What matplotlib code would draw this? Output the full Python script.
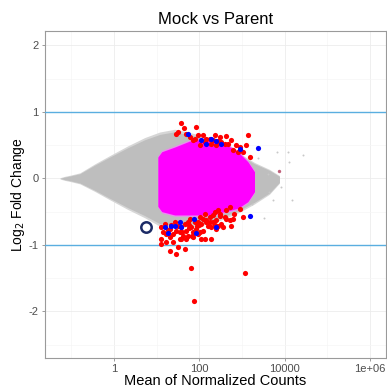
import numpy as np
import matplotlib
matplotlib.use('Agg')
import matplotlib.pyplot as plt
from matplotlib.ticker import FixedLocator

plt.rcParams['font.family'] = ['Liberation Sans', 'DejaVu Sans']
plt.rcParams['axes.unicode_minus'] = False

# --- datos ---
# nube gris (genes no significativos): envolvente
gris_x = [0.054, 0.070, 0.092, 0.158, 0.354, 0.793, 2.09, 5.22, 11.7, 26.3, 101, 297, 871, 1954, 4385, 7516]
gris_sup = [0.0, 0.02, 0.035, 0.07, 0.20, 0.32, 0.46, 0.58, 0.66, 0.70, 0.62, 0.52, 0.35, 0.22, 0.12, 0.03]
gris_inf = [0.0, -0.02, -0.035, -0.07, -0.18, -0.30, -0.44, -0.56, -0.68, -0.70, -0.68, -0.60, -0.48, -0.36, -0.22, -0.06]

# nube magenta: envolvente
mag_x = [10.6, 13.1, 26.3, 59.0, 173, 388, 796, 1365, 1954]
mag_sup = [0.32, 0.40, 0.47, 0.56, 0.60, 0.52, 0.40, 0.25, 0.10]
mag_inf = [-0.42, -0.50, -0.55, -0.55, -0.55, -0.50, -0.45, -0.35, -0.20]

# puntos grises sueltos a la derecha
gris_pts_x = [1200, 1700, 2400, 3200, 4100, 4300, 5200, 6700, 8200, 12200, 12900, 14500, 27000]
gris_pts_y = [0.27, -0.38, 0.30, -0.59, 0.07, -0.20, -0.33, 0.40, -0.13, 0.40, 0.25, -0.32, 0.35]

# punto rosado
rosa_x = [7244]
rosa_y = [0.106]

# genes significativos (rojo)
rojo_x = [37.7, 31.4, 28.8, 42.7, 84.6, 59.0, 77.2, 92.2, 121, 132, 173, 227, 297, 325, 426, 464,
          557, 730, 871, 1250, 1365, 1042, 1493, 248, 101, 190, 608, 796, 49.4, 70.5, 145, 207, 271, 388,
          12.8, 14.0, 12.8, 12.8, 20.1, 20.1, 24.0, 28.8, 34.4, 37.7, 45.1, 49.4, 53.8, 59.0, 64.7, 77.2,
          84.6, 92.2, 101, 111, 121, 132, 145, 173, 190, 227, 248, 297, 325, 388, 426, 508, 557, 871,
          1042, 508, 355, 111, 132, 190, 37.7, 20.1, 28.8, 31.4, 45.1, 16.8, 24.0, 248, 62.2, 1140, 74.3,
          271, 207, 15.3, 26.3, 31.4, 70.5, 53.8, 92.2, 121, 158, 207, 271, 34.4, 16.8, 70.5, 101, 426,
          655, 608, 49.4, 40.0, 58.0, 66.0, 88.0, 140, 180, 230, 300, 18.0, 22.0, 42.0, 56.0, 96.0]
rojo_y = [0.825, 0.698, 0.664, 0.750, 0.765, 0.623, 0.599, 0.649, 0.649, 0.548, 0.599, 0.649, 0.623,
          0.548, 0.633, 0.523, 0.573, 0.498, 0.472, 0.498, 0.649, 0.397, 0.321, 0.498, 0.498, 0.523,
          0.422, 0.397, 0.664, 0.573, 0.599, 0.573, 0.563, 0.523,
          -0.735, -0.810, -0.910, -0.985, -0.759, -0.885, -0.834, -0.784, -0.910, -0.735, -0.683, -0.784,
          -0.860, -0.608, -0.735, -0.659, -0.759, -0.834, -0.584, -0.683, -0.784, -0.532, -0.659, -0.584,
          -0.735, -0.509, -0.633, -0.532, -0.683, -0.584, -0.483, -0.633, -0.709, -0.457, -0.584, -0.433,
          -0.735, -0.910, -0.910, -0.910, -0.910, -1.086, -1.136, -1.036, -1.060, -0.961, -0.961, -0.759,
          -1.353, -1.428, -1.840, -0.483, -0.558, -0.683, -0.659, -0.709, -0.810, -0.659, -0.659, -0.608,
          -0.709, -0.659, -0.709, -0.810, -0.834, -0.885, -0.810, -0.608, -0.532, -0.608, -0.910,
          -0.80, -0.70, -0.86, -0.72, -0.62, -0.66, -0.70, -0.56, -0.78, -0.70, -0.87, -0.74, -0.70]

# genes significativos (azul)
azul_x = [53.8, 111, 190, 248, 325, 145, 871, 2336,
          15.9, 21.2, 27.3, 34.4, 37.7, 18.3, 73.2, 84.6, 239, 1551]
azul_y = [0.664, 0.573, 0.599, 0.563, 0.523, 0.523, 0.448, 0.463,
          -0.724, -0.719, -0.719, -0.659, -0.735, -0.825, -0.618, -0.819, -0.724, -0.573]

# gen destacado (circulo abierto)
destacado_x = [5.73]
destacado_y = [-0.73]

# ejes
xticks = [1, 100, 10000, 1e6]
xticklabels = ['1', '100', '10000', '1e+06']
yticks = [-2, -1, 0, 1, 2]

fig = plt.figure(figsize=(3.87, 3.88), dpi=100)
ax = fig.add_axes([0.1163, 0.0773, 0.8807, 0.8437])
ax.set_xscale('log')
ax.set_xlim(10 ** -1.62, 10 ** 6.37)
ax.set_ylim(-2.70, 2.22)

# rejilla tenue
for v in [0.1, 10, 1000, 1e5]:
    ax.axvline(v, color='#f5f5f5', lw=0.5, zorder=0)
for v in xticks:
    ax.axvline(v, color='#ececec', lw=0.6, zorder=0)
for v in [-2.5, -1.5, -0.5, 0.5, 1.5]:
    ax.axhline(v, color='#f5f5f5', lw=0.5, zorder=0)
for v in yticks:
    ax.axhline(v, color='#ececec', lw=0.6, zorder=0)

# nube gris: borde claro y nucleo
ax.fill_between(gris_x, np.array(gris_sup) * 1.04 + 0.01, np.array(gris_inf) * 1.04 - 0.01,
                color='#d6d6d6', lw=0, zorder=1)
ax.fill_between(gris_x, gris_sup, gris_inf, color='#bebebe', lw=0, zorder=2)
ax.scatter(gris_pts_x, gris_pts_y, s=2, color='#c8c8c8', lw=0, zorder=2)

# nube magenta
ax.fill_between(mag_x, np.array(mag_sup) + 0.02, np.array(mag_inf) - 0.02,
                color='#ee88f2', lw=0, zorder=3)
ax.fill_between(mag_x, mag_sup, mag_inf, color='#ff00ff', lw=0, zorder=3)

ax.scatter(rosa_x, rosa_y, s=6, color='#c0607a', lw=0, zorder=4)
ax.scatter(rojo_x, rojo_y, s=14, color='#ff0000', lw=0, zorder=5)
ax.scatter(azul_x, azul_y, s=14, color='#0000ff', lw=0, zorder=6)
ax.plot(destacado_x, destacado_y, 'o', ms=7.5, mfc='white', mec='#1c2b66', mew=1.8, zorder=7)

# lineas de umbral
ax.axhline(1, color='#5aaee0', lw=1.0, zorder=4)
ax.axhline(-1, color='#5aaee0', lw=1.0, zorder=4)

ax.xaxis.set_major_locator(FixedLocator(xticks))
ax.xaxis.set_minor_locator(FixedLocator([]))
ax.set_xticklabels(xticklabels)
ax.set_yticks(yticks)
ax.tick_params(colors='#8c8c8c', labelcolor='#4d4d4d', labelsize=8, length=2.5, width=0.6, pad=2)
for s in ax.spines.values():
    s.set_color('#9a9a9a')
    s.set_linewidth(0.8)

ax.set_title('Mock vs Parent', fontsize=12, pad=5)
ax.set_xlabel('Mean of Normalized Counts', fontsize=10.5, labelpad=-0.5)
ax.set_ylabel('Log$_2$ Fold Change', fontsize=10, labelpad=1)

fig.savefig('out.png', dpi=100)
